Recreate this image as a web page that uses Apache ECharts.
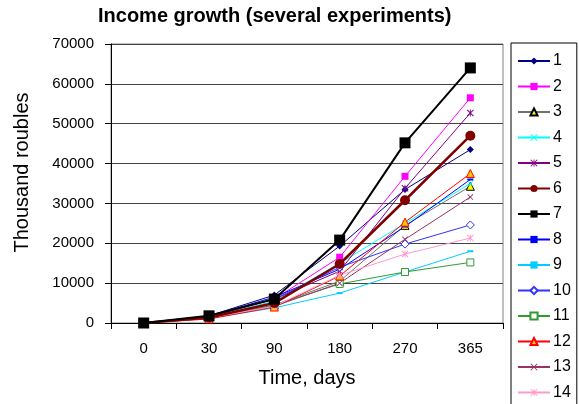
<!DOCTYPE html>
<html><head><meta charset="utf-8">
<script src="https://cdn.jsdelivr.net/npm/echarts@6/dist/echarts.min.js"></script>
<style>html,body{margin:0;padding:0;background:#fff}#c{width:579px;height:404px}</style>
</head><body><div id="c"></div>
<script>
var categories = ['0','30','90','180','270','365'];
var yTicks = [0,10000,20000,30000,40000,50000,60000,70000];
var seriesNames = ['1','2','3','4','5','6','7','8','9','10','11','12','13','14'];
var s1  = [0,1800,7000,19300,33500,43500];
var s2  = [0,1700,6000,16500,36800,56500];
var s3  = [0,1300,4500,10500,24500,34300];
var s4  = [0,1500,5500,15000,25000,35000];
var s5  = [0,1600,6000,13000,33800,52700];
var s6  = [0,1400,5000,14800,30800,47000];
var s7  = [0,1800,6000,20800,45200,64000];
var s8  = [0,1700,6500,13500,24200,36000];
var s9  = [0,1200,3800,7500,12800,18000];
var s10 = [0,1600,6000,14000,19800,24600];
var s11 = [0,1300,4500,9800,12800,15200];
var s12 = [0,1000,4000,11800,25300,37500];
var s13 = [0,1200,4200,10000,21000,31600];
var s14 = [0,1300,4200,12000,17300,21300];
var allData = [s1,s2,s3,s4,s5,s6,s7,s8,s9,s10,s11,s12,s13,s14];

var X = 'path://M0,1L1,0L10,9L9,10Z M9,0L10,1L1,10L0,9Z';
var STAR = 'path://M0,1L1,0L10,9L9,10Z M9,0L10,1L1,10L0,9Z M4.4,0L5.6,0L5.6,10L4.4,10Z';
var styles = [
  {c:'#000080', sym:'diamond', size:7, fill:'#000080', bc:'#000080', w:1},
  {c:'#ff00ff', sym:'rect', size:7, fill:'#ff00ff', bc:'#ff00ff', w:1},
  {c:'#707070', sym:'triangle', size:8, fill:'#ffff00', bc:'#000000', w:1},
  {c:'#00ffff', sym:X, size:6, fill:'#00ffff', bc:'#00ffff', w:1},
  {c:'#800080', sym:STAR, size:7, fill:'#800080', bc:'#800080', w:1},
  {c:'#800000', sym:'circle', size:10, fill:'#800000', bc:'#800000', w:2.5},
  {c:'#000000', sym:'rect', size:11, fill:'#000000', bc:'#000000', w:2},
  {c:'#0000ff', sym:'rect', size:[6,2], fill:'#0000ff', bc:'#0000ff', w:1},
  {c:'#00ccff', sym:'rect', size:[6,2], fill:'#00ccff', bc:'#00ccff', w:1},
  {c:'#3333ff', sym:'diamond', size:8, fill:'#ffffff', bc:'#3333ff', w:1},
  {c:'#339933', sym:'rect', size:7, fill:'#ffffff', bc:'#339933', w:1},
  {c:'#ff0000', sym:'triangle', size:8, fill:'#ffcc00', bc:'#ff0000', w:1},
  {c:'#993366', sym:X, size:6, fill:'#993366', bc:'#993366', w:1},
  {c:'#ff99cc', sym:STAR, size:7, fill:'#ff99cc', bc:'#ff99cc', w:1}
];

var series = seriesNames.map(function(n,i){
  var st = styles[i];
  var hollow = st.fill === '#ffffff' || st.sym === 'triangle';
  return {
    name:n, type:'line', data:allData[i],
    symbol:st.sym, symbolSize:st.size, showAllSymbol:true,
    lineStyle:{color:st.c, width:st.w},
    itemStyle:{color:st.fill, borderColor:st.bc, borderWidth: hollow?1:0},
    z: i===6?20:(i===5?15:10),
    animation:false
  };
});

var legendData = seriesNames.map(function(n){ return {name:n}; });

var chart = echarts.init(document.getElementById('c'), null, {renderer:'canvas'});
chart.setOption({
  animation:false,
  backgroundColor:'#ffffff',
  textStyle:{fontFamily:'Liberation Sans, Arial, sans-serif'},
  title:{text:'Income growth (several experiments)', left:93, top:1,
    textStyle:{fontSize:20, fontWeight:'bold', color:'#000', fontFamily:'Liberation Sans, Arial, sans-serif'}},
  grid:{left:111, right:76, top:44, bottom:81, show:true, borderColor:'#808080', borderWidth:1},
  legend:{orient:'vertical', left:511, top:43, width:62, height:358, padding:[10,6,9,6],
    itemGap:9.5, itemWidth:32, itemHeight:9, borderColor:'#000', borderWidth:1,
    textStyle:{fontSize:16, color:'#000', padding:[0,0,0,-2]}, data:legendData},
  xAxis:{type:'category', data:categories, boundaryGap:true,
    name:'Time, days', nameLocation:'middle', nameGap:45,
    nameTextStyle:{fontSize:20, color:'#000'},
    axisLine:{lineStyle:{color:'#000', width:1}},
    axisTick:{show:true, length:6, inside:false, lineStyle:{color:'#000'}},
    axisLabel:{fontSize:15, color:'#000', margin:18}},
  yAxis:{type:'value', min:yTicks[0], max:yTicks[yTicks.length-1], interval:10000,
    name:'Thousand roubles', nameLocation:'middle', nameGap:79,
    nameTextStyle:{fontSize:20, color:'#000', padding:[0,0,0,22]},
    axisLine:{show:true, lineStyle:{color:'#000', width:1}},
    axisTick:{show:true, length:6, lineStyle:{color:'#000'}},
    axisLabel:{fontSize:15, color:'#000', margin:17, formatter:function(v){return String(v);}},
    splitLine:{show:true, lineStyle:{color:'#444', width:1}}},
  series:series
});
</script></body></html>
